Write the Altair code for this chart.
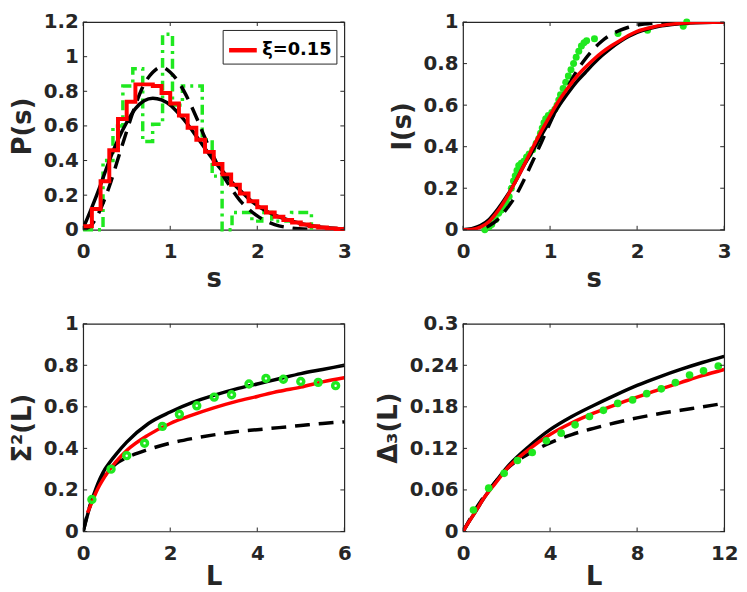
import altair as alt
import pandas as pd

FONT = "DejaVu Sans"
INK = "#262626"
GREEN = "#1fe81f"
RED = "#ff0000"
BLACK = "#000000"
W, H = 264, 210
TICK = 4
LEGEND_LABEL = "ξ=0.15"

# ---------------- P(s) ----------------
red_hist_edges = [0.0, 0.1, 0.2, 0.3, 0.4, 0.5, 0.6, 0.7, 0.8, 0.9, 1.0, 1.1, 1.2, 1.3, 1.4, 1.5,
                  1.6, 1.7, 1.8, 1.9, 2.0, 2.1, 2.2, 2.3, 2.4, 2.5, 2.6, 2.7, 2.8, 2.9, 3.0]
red_hist_vals = [0.02, 0.12, 0.28, 0.46, 0.64, 0.74, 0.84, 0.84, 0.83, 0.79, 0.73, 0.66, 0.59, 0.52,
                 0.45, 0.38, 0.32, 0.26, 0.21, 0.165, 0.13, 0.10, 0.075, 0.057, 0.042, 0.03, 0.02,
                 0.013, 0.008, 0.005]
green_hist_edges = [0.0, 0.114, 0.228, 0.342, 0.456, 0.57, 0.684, 0.798, 0.912, 1.026, 1.14, 1.254,
                    1.368, 1.482, 1.596, 1.71, 1.824, 1.938, 2.052, 2.166, 2.28, 2.394, 2.508, 2.622]
green_hist_vals = [0.0, 0.0, 0.40, 0.60, 0.83, 0.93, 0.51, 0.61, 1.13, 0.72, 0.83, 0.83, 0.52, 0.31,
                   0.0, 0.10, 0.10, 0.05, 0.10, 0.05, 0.05, 0.10, 0.10]
ps_solid_s = [0, 0.1, 0.2, 0.3, 0.4, 0.5, 0.6, 0.7, 0.8, 0.9, 1.0, 1.1, 1.2, 1.3, 1.4, 1.5, 1.6,
              1.7, 1.8, 1.9, 2.0, 2.2, 2.4, 2.6, 2.8, 3.0]
ps_solid_p = [0.01, 0.13, 0.26, 0.40, 0.52, 0.62, 0.70, 0.745, 0.76, 0.75, 0.72, 0.67, 0.61, 0.54,
              0.47, 0.40, 0.34, 0.28, 0.23, 0.18, 0.14, 0.085, 0.05, 0.025, 0.012, 0.005]
ps_dash_s = [0, 0.1, 0.2, 0.3, 0.4, 0.5, 0.6, 0.7, 0.8, 0.9, 1.0, 1.1, 1.2, 1.3, 1.4, 1.5, 1.6,
             1.7, 1.8, 1.9, 2.0, 2.2, 2.4, 2.6]
ps_dash_p = [0.0, 0.03, 0.12, 0.25, 0.41, 0.57, 0.72, 0.84, 0.91, 0.94, 0.91, 0.85, 0.76, 0.65,
             0.53, 0.42, 0.32, 0.24, 0.17, 0.12, 0.08, 0.03, 0.01, 0.003]

# ---------------- I(s) ----------------
is_s = [0, 0.1, 0.2, 0.3, 0.4, 0.5, 0.6, 0.7, 0.8, 0.9, 1.0, 1.1, 1.2, 1.3, 1.4, 1.5, 1.6, 1.7,
        1.8, 1.9, 2.0, 2.2, 2.4, 2.6, 3.0]
is_solid = [0, 0.005, 0.02, 0.05, 0.10, 0.16, 0.23, 0.31, 0.38, 0.455, 0.525, 0.595, 0.655, 0.71,
            0.755, 0.80, 0.84, 0.875, 0.905, 0.93, 0.95, 0.975, 0.988, 0.995, 1.0]
is_red = [0, 0.002, 0.013, 0.04, 0.09, 0.155, 0.23, 0.31, 0.395, 0.475, 0.55, 0.62, 0.68, 0.735,
          0.78, 0.82, 0.855, 0.885, 0.91, 0.935, 0.955, 0.978, 0.99, 0.996, 1.0]
is_dash = [0, 0.001, 0.006, 0.02, 0.05, 0.10, 0.16, 0.24, 0.33, 0.42, 0.515, 0.605, 0.685, 0.76,
           0.82, 0.87, 0.91, 0.94, 0.96, 0.975, 0.985, 0.995, 0.999, 1.0, 1.0]
is_green_s = [0.25, 0.30, 0.33, 0.375, 0.41, 0.44, 0.47, 0.50, 0.53, 0.555, 0.58, 0.60, 0.62, 0.64,
              0.67, 0.70, 0.73, 0.76, 0.80, 0.84, 0.87, 0.89, 0.91, 0.93, 0.95, 0.98, 1.02, 1.055,
              1.08, 1.10, 1.12, 1.15, 1.18, 1.21, 1.24, 1.27, 1.30, 1.33, 1.36, 1.39, 1.42, 1.51,
              1.78, 2.12, 2.53, 2.57]
is_green_v = [0.0, 0.015, 0.025, 0.05, 0.08, 0.095, 0.11, 0.135, 0.16, 0.20, 0.235, 0.26, 0.285,
              0.31, 0.32, 0.33, 0.35, 0.365, 0.385, 0.415, 0.44, 0.465, 0.49, 0.515, 0.535, 0.55,
              0.565, 0.58, 0.60, 0.625, 0.65, 0.68, 0.71, 0.74, 0.77, 0.80, 0.83, 0.86, 0.885, 0.90,
              0.91, 0.92, 0.945, 0.96, 0.98, 1.0]

# ---------------- Sigma^2(L) ----------------
sg_L = [0, 0.05, 0.1, 0.2, 0.3, 0.5, 0.6, 0.75, 1, 1.5, 2, 2.5, 3, 3.5, 4, 4.5, 5, 5.5, 6]
sg_solid = [0, 0.04, 0.08, 0.15, 0.21, 0.30, 0.33, 0.37, 0.43, 0.52, 0.575, 0.62, 0.655, 0.685,
            0.71, 0.735, 0.76, 0.78, 0.80]
sg_red_L = [0.1, 0.2, 0.3, 0.5, 0.75, 1, 1.5, 2, 2.5, 3, 3.5, 4, 4.5, 5, 5.5, 6]
sg_red = [0.09, 0.14, 0.19, 0.265, 0.335, 0.39, 0.465, 0.52, 0.56, 0.595, 0.625, 0.65, 0.675,
          0.695, 0.72, 0.74]
sg_dash_L = [0, 0.1, 0.25, 0.5, 0.75, 1, 1.5, 2, 2.5, 3, 3.5, 4, 4.5, 5, 5.5, 6]
sg_dash = [0, 0.085, 0.18, 0.27, 0.325, 0.355, 0.395, 0.425, 0.447, 0.465, 0.48, 0.49, 0.50,
           0.51, 0.52, 0.528]
sg_green_L = [0.2, 0.64, 1.0, 1.41, 1.82, 2.21, 2.61, 3.01, 3.41, 3.81, 4.2, 4.6, 5.0, 5.4, 5.8]
sg_green = [0.154, 0.30, 0.365, 0.425, 0.506, 0.564, 0.605, 0.647, 0.658, 0.71, 0.737, 0.733,
            0.722, 0.718, 0.702]

# ---------------- Delta_3(L) ----------------
d3_L = [0, 0.25, 0.5, 1, 1.5, 2, 3, 4, 5, 6, 7, 8, 9, 10, 11, 12]
d3_solid = [0, 0.013, 0.025, 0.05, 0.072, 0.092, 0.122, 0.147, 0.166, 0.182, 0.197, 0.211, 0.223,
            0.234, 0.244, 0.253]
d3_red = [0, 0.013, 0.025, 0.05, 0.07, 0.09, 0.118, 0.14, 0.157, 0.171, 0.183, 0.194, 0.205,
          0.215, 0.225, 0.234]
d3_dash = [0, 0.014, 0.028, 0.052, 0.072, 0.09, 0.112, 0.128, 0.14, 0.149, 0.157, 0.164, 0.17,
           0.175, 0.18, 0.185]
d3_green_L = [0.48, 1.18, 1.89, 2.5, 3.18, 3.83, 4.51, 5.15, 5.81, 6.45, 7.11, 7.79, 8.44, 9.11,
              9.76, 10.41, 11.05, 11.73]
d3_green = [0.031, 0.0625, 0.084, 0.1025, 0.114, 0.131, 0.142, 0.154, 0.166, 0.175, 0.185, 0.19,
            0.199, 0.206, 0.215, 0.226, 0.232, 0.239]


def xy(xs, ys):
    return pd.DataFrame({"x": xs, "y": ys})


def steps(edges, vals, last):
    return pd.DataFrame({"x": edges, "y": list(vals) + [last]})


def panel(layers, xdom, xvals, xtitle, ydom, yvals, ytitle, xtp):
    xe = alt.X("x:Q", scale=alt.Scale(domain=xdom, nice=False, zero=False),
               axis=alt.Axis(values=xvals, title=xtitle, format="~g", labelFlush=False,
                             titlePadding=xtp))
    ye = alt.Y("y:Q", scale=alt.Scale(domain=ydom, nice=False, zero=False),
               axis=alt.Axis(values=yvals, title=ytitle, format="~g"))
    charts = [mk(xe, ye) for mk in layers]
    xt = pd.DataFrame({"x": xvals})
    yt = pd.DataFrame({"y": yvals})
    rule = dict(color=INK, strokeWidth=1)
    charts += [
        alt.Chart(xt).mark_rule(**rule).encode(x=xe, y=alt.value(H), y2=alt.value(H - TICK)),
        alt.Chart(xt).mark_rule(**rule).encode(x=xe, y=alt.value(0), y2=alt.value(TICK)),
        alt.Chart(yt).mark_rule(**rule).encode(y=ye, x=alt.value(0), x2=alt.value(TICK)),
        alt.Chart(yt).mark_rule(**rule).encode(y=ye, x=alt.value(W), x2=alt.value(W - TICK)),
    ]
    return alt.layer(*charts).properties(width=W, height=H)


def solid(df, color=BLACK, width=3.5):
    return lambda xe, ye: alt.Chart(df).mark_line(
        color=color, strokeWidth=width, interpolate="monotone", clip=True).encode(x=xe, y=ye)


def dashed(df):
    return lambda xe, ye: alt.Chart(df).mark_line(
        color=BLACK, strokeWidth=3.5, strokeDash=[15, 9], interpolate="monotone",
        clip=True).encode(x=xe, y=ye)


red_df = steps(red_hist_edges, red_hist_vals, red_hist_vals[-1])
red_df["label"] = LEGEND_LABEL

legend = alt.Legend(title=None, orient="top-right", offset=8, fillColor="white",
                    strokeColor=INK, padding=4, labelFont=FONT, labelFontSize=18,
                    labelFontWeight="bold", labelColor="#000000", symbolType="stroke",
                    symbolStrokeWidth=4.5, symbolSize=784, labelOffset=3, cornerRadius=0)

p1 = panel([
    lambda xe, ye: alt.Chart(steps(green_hist_edges, green_hist_vals, 0.0)).mark_line(
        interpolate="step-after", color=GREEN, strokeWidth=3.5,
        strokeDash=[10, 5, 3, 5]).encode(x=xe, y=ye),
    solid(xy(ps_solid_s, ps_solid_p)),
    dashed(xy(ps_dash_s, ps_dash_p)),
    lambda xe, ye: alt.Chart(red_df).mark_line(interpolate="step-after", strokeWidth=4).encode(
        x=xe, y=ye,
        color=alt.Color("label:N", scale=alt.Scale(domain=[LEGEND_LABEL], range=[RED]),
                        legend=legend)),
], [0, 3], [0, 1, 2, 3], "s", [0, 1.2], [0, 0.2, 0.4, 0.6, 0.8, 1, 1.2], "P(s)", 4)

p2 = panel([
    lambda xe, ye: alt.Chart(xy(is_green_s, is_green_v)).mark_circle(
        color=GREEN, size=50, opacity=1).encode(x=xe, y=ye),
    dashed(xy(is_s, is_dash)),
    solid(xy(is_s, is_solid)),
    solid(xy(is_s, is_red), RED, 3.5),
], [0, 3], [0, 1, 2, 3], "s", [0, 1], [0, 0.2, 0.4, 0.6, 0.8, 1], "I(s)", 4)

p3 = panel([
    solid(xy(sg_L, sg_solid)),
    dashed(xy(sg_dash_L, sg_dash)),
    solid(xy(sg_red_L, sg_red), RED, 3.5),
    lambda xe, ye: alt.Chart(xy(sg_green_L, sg_green)).mark_point(
        shape="circle", filled=False, color=GREEN, strokeWidth=3.5, size=36,
        opacity=1).encode(x=xe, y=ye),
], [0, 6], [0, 2, 4, 6], "L", [0, 1], [0, 0.2, 0.4, 0.6, 0.8, 1], "Σ²(L)", 1)

p4 = panel([
    solid(xy(d3_L, d3_solid)),
    dashed(xy(d3_L, d3_dash)),
    solid(xy(d3_L, d3_red), RED, 3.5),
    lambda xe, ye: alt.Chart(xy(d3_green_L, d3_green)).mark_circle(
        color=GREEN, size=60, opacity=1).encode(x=xe, y=ye),
], [0, 12], [0, 4, 8, 12], "L", [0, 0.3], [0, 0.06, 0.12, 0.18, 0.24, 0.3], "Δ₃(L)", 1)

chart = alt.concat(
    p1, p2, p3, p4, columns=2,
    spacing=alt.RowColnumber(row=95, column=120), bounds="flush",
).resolve_scale(color="independent").resolve_legend(color="independent").properties(
    padding={"left": 0, "top": 0, "right": 0, "bottom": 0}, background="white",
).configure_view(
    stroke=INK, strokeWidth=1.2,
).configure_axis(
    labelFont=FONT, labelFontSize=20, labelFontWeight="bold", labelColor=INK,
    titleFont=FONT, titleFontSize=26, titleFontWeight="bold", titleColor=INK,
    ticks=False, domain=False, grid=False,
).configure_axisX(labelPadding=12).configure_axisY(labelPadding=5, titlePadding=8)

chart.save("out.html", embed_options={"renderer": "svg", "actions": False})
